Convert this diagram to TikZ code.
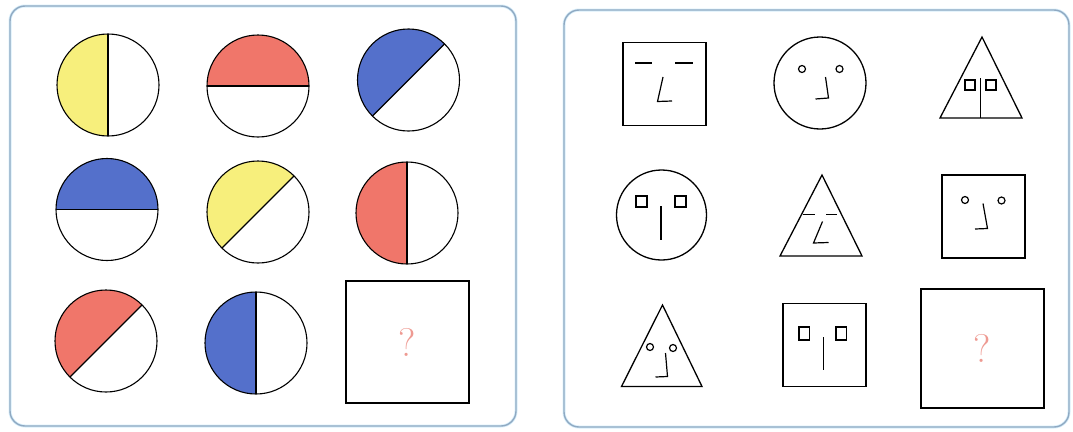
\documentclass[tikz,border=0pt]{standalone}
\usepackage{fontspec}
\usetikzlibrary{shapes.geometric}
\definecolor{yel}{HTML}{F7EF7C}
\definecolor{redd}{HTML}{F0766A}
\definecolor{blu}{HTML}{5470CB}
\definecolor{qcol}{HTML}{EE9A92}
\definecolor{pnl}{HTML}{8FA9C2}
\definecolor{pglow}{HTML}{D8EEFA}
\tikzset{
  panel/.style={draw=pnl, line width=1.4pt, rounded corners=15pt},
  disc/.style={circle, draw, line width=1.1pt, minimum size=102pt, inner sep=0pt, outer sep=0pt},
  qbox/.style={rectangle, draw, line width=1.1pt, inner sep=0pt, outer sep=0pt},
  qmark/.style={text=qcol, font=\fontsize{40}{40}\selectfont},
  divl/.style={line width=1.1pt},
  shp/.style={draw, line width=1.3pt, inner sep=0pt, outer sep=0pt},
  sq/.style={shp, rectangle, minimum size=83pt},
  rnd/.style={shp, circle},
  feat/.style={line width=1.2pt},
}
\begin{document}
\begin{tikzpicture}[x=1pt,y=1pt]
\useasboundingbox (0,0) rectangle (1073,-431);
% panels
\draw[pglow, line width=3pt, rounded corners=15pt] (10,-6) rectangle (516,-426);
\draw[pglow, line width=3pt, rounded corners=15pt] (564,-10) rectangle (1069,-427);
\draw[panel] (10,-6) rectangle (516,-426);
\draw[panel] (564,-10) rectangle (1069,-427);

% ---------- left panel ----------
\coordinate (p1) at (108,-85);
\coordinate (p2) at (258,-86);
\coordinate (p3) at (408.5,-80);
\coordinate (p4) at (107,-209.5);
\coordinate (p5) at (258,-212);
\coordinate (p6) at (407,-213);
\coordinate (p7) at (106,-341);
\coordinate (p8) at (256,-343);
\fill[yel]  (p1) ++(90:51) arc[start angle=90,end angle=270,radius=51] -- cycle;
\fill[redd] (p2) ++(0:51) arc[start angle=0,end angle=180,radius=51] -- cycle;
\fill[blu]  (p3) ++(45:51) arc[start angle=45,end angle=225,radius=51] -- cycle;
\fill[blu]  (p4) ++(0:51) arc[start angle=0,end angle=180,radius=51] -- cycle;
\fill[yel]  (p5) ++(45:51) arc[start angle=45,end angle=225,radius=51] -- cycle;
\fill[redd] (p6) ++(90:51) arc[start angle=90,end angle=270,radius=51] -- cycle;
\fill[redd] (p7) ++(45:51) arc[start angle=45,end angle=225,radius=51] -- cycle;
\fill[blu]  (p8) ++(90:51) arc[start angle=90,end angle=270,radius=51] -- cycle;
\node[disc] (c1) at (p1) {};
\node[disc] (c2) at (p2) {};
\node[disc] (c3) at (p3) {};
\node[disc] (c4) at (p4) {};
\node[disc] (c5) at (p5) {};
\node[disc] (c6) at (p6) {};
\node[disc] (c7) at (p7) {};
\node[disc] (c8) at (p8) {};
\draw[divl] (c1.north) -- (c1.south);
\draw[divl] (c2.west) -- (c2.east);
\draw[divl] (c3.45) -- (c3.225);
\draw[divl] (c4.west) -- (c4.east);
\draw[divl] (c5.45) -- (c5.225);
\draw[divl] (c6.north) -- (c6.south);
\draw[divl] (c7.45) -- (c7.225);
\draw[divl] (c8.north) -- (c8.south);
\node[qbox, minimum width=123pt, minimum height=122pt] (qa) at (407.5,-342) {};
\node[qmark] (qta) at (qa.center) {?};

% ---------- right panel ----------
% A: square, eyebrows, L nose
\node[sq] (fa) at (664.5,-84) {};
\draw[feat] (635,-63) -- (652,-63);
\draw[feat] (675,-63) -- (693,-63);
\draw[feat] (663,-77) -- (657.5,-101.5) -- (672,-101);
% B: circle, round eyes, J nose
\node[rnd, minimum size=92pt] (fb) at (820,-83) {};
\draw[feat] (802,-69) circle (3.5);
\draw[feat] (839.5,-69) circle (3.5);
\draw[feat] (825.5,-77) -- (828.5,-98) -- (815.5,-99);
% C: triangle, square eyes, straight nose
\coordinate (ca) at (982,-37);
\coordinate (cl) at (940,-118);
\coordinate (cr) at (1022,-118);
\draw[shp] (ca) -- (cl) -- (cr) -- cycle;
\draw[feat] (965,-80) rectangle (975,-90);
\draw[feat] (986,-80) rectangle (996,-90);
\draw[feat] (980.5,-78) -- (980.5,-118);
% D: circle, square eyes, straight nose
\node[rnd, minimum size=90pt] (fd) at (661.5,-215) {};
\draw[feat] (636,-196) rectangle (647,-207);
\draw[feat] (675,-196) rectangle (686,-207);
\draw[feat] (661,-206) -- (661,-240);
% E: triangle, eyebrows, L nose
\coordinate (ea) at (822,-175);
\coordinate (el) at (780,-256);
\coordinate (er) at (862,-256);
\draw[shp] (ea) -- (el) -- (er) -- cycle;
\draw[feat] (803,-214.5) -- (815,-214.5);
\draw[feat] (826,-214.5) -- (837,-214.5);
\draw[feat] (822.5,-221.5) -- (813.5,-243) -- (828.5,-242.5);
% F: square, round eyes, J nose
\node[sq] (ff) at (983.5,-216.5) {};
\draw[feat] (965,-200) circle (3.5);
\draw[feat] (1001.5,-200.5) circle (3.5);
\draw[feat] (983,-203.5) -- (987.5,-228.5) -- (975,-229);
% G: triangle, round eyes, J nose
\coordinate (ga) at (662.5,-305);
\coordinate (gl) at (621.5,-386.5);
\coordinate (gr) at (702,-386.5);
\draw[shp] (ga) -- (gl) -- (gr) -- cycle;
\draw[feat] (650,-347) circle (3.5);
\draw[feat] (673,-348) circle (3.5);
\draw[feat] (665.5,-353) -- (667.5,-376.5) -- (655.5,-377);
% H: square, square eyes, straight nose
\node[sq] (fh) at (824.5,-345) {};
\draw[feat] (799,-327) rectangle (809.5,-340);
\draw[feat] (836,-327) rectangle (846.5,-340);
\draw[feat] (823.5,-337) -- (823.5,-370);
% question box
\node[qbox, minimum width=123pt, minimum height=119pt] (qb) at (982.5,-348.5) {};
\node[qmark] (qtb) at (qb.center) {?};
\end{tikzpicture}
\end{document}
